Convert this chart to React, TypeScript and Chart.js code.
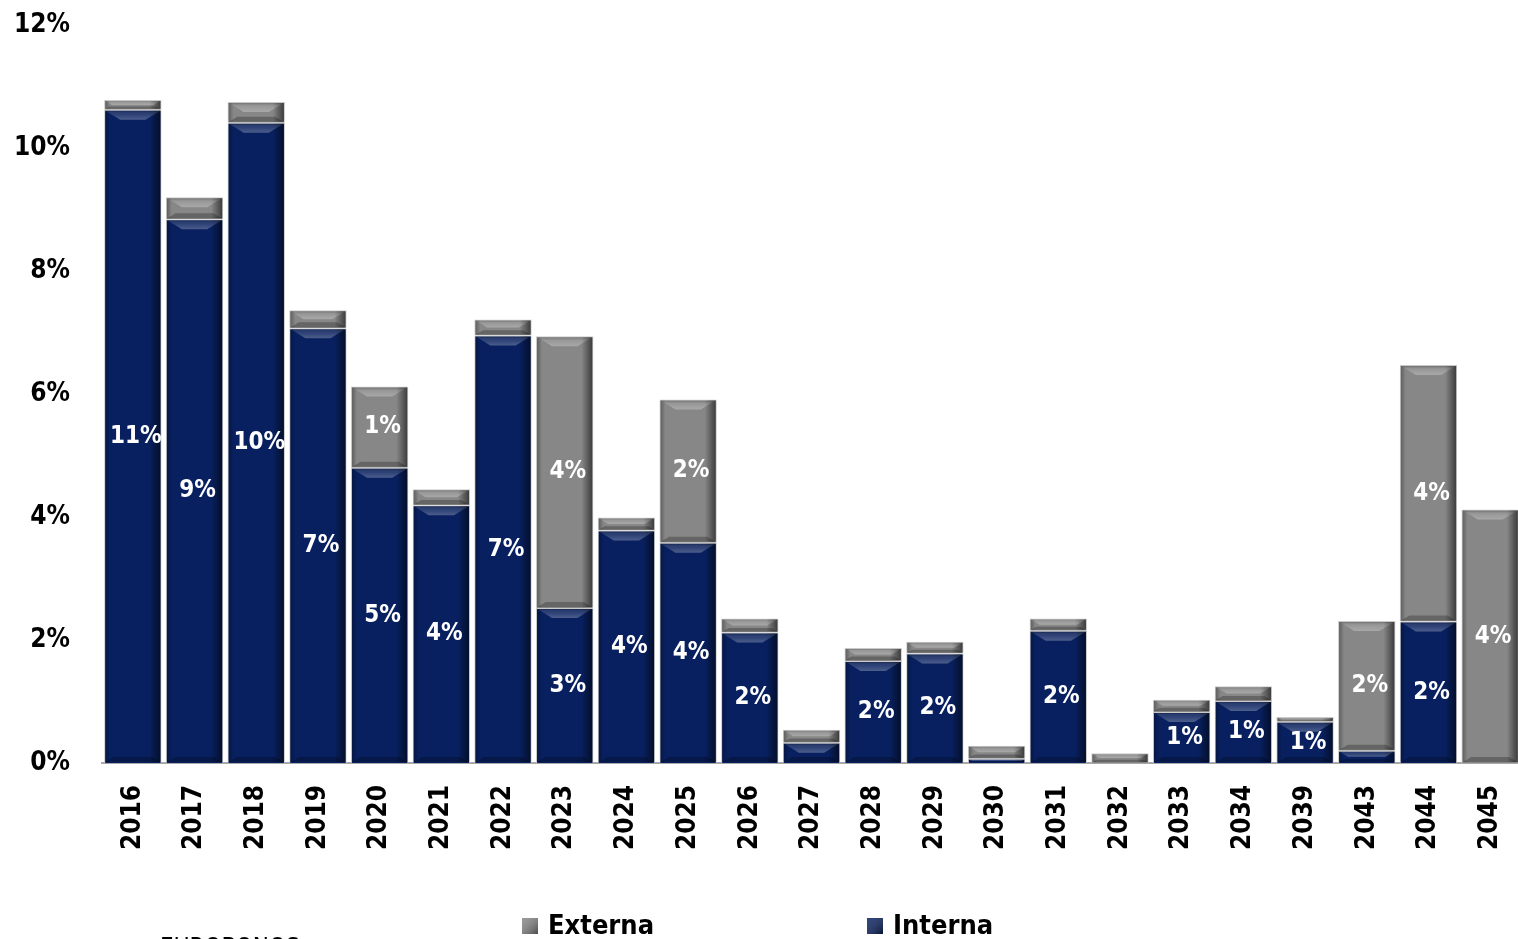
import React, { useEffect, useRef } from "react";
import { Chart, registerables } from "chart.js";

Chart.register(...registerables);

const years = ["2016", "2017", "2018", "2019", "2020", "2021", "2022", "2023", "2024", "2025", "2026", "2027", "2028", "2029", "2030", "2031", "2032", "2033", "2034", "2039", "2043", "2044", "2045"];
const interna = [10.62, 8.84, 10.41, 7.07, 4.8, 4.19, 6.95, 2.52, 3.78, 3.58, 2.12, 0.33, 1.66, 1.78, 0.07, 2.15, 0, 0.83, 1.01, 0.67, 0.2, 2.3, 0];
const externa = [0.16, 0.36, 0.34, 0.29, 1.32, 0.26, 0.26, 4.42, 0.21, 2.33, 0.23, 0.21, 0.21, 0.19, 0.21, 0.2, 0.16, 0.2, 0.24, 0.08, 2.11, 4.17, 4.12];
const internaLabels = ["11%", "9%", "10%", "7%", "5%", "4%", "7%", "3%", "4%", "4%", "2%", "", "2%", "2%", "", "2%", "", "1%", "1%", "1%", "", "2%", ""];
const externaLabels = ["", "", "", "", "1%", "", "", "4%", "", "2%", "", "", "", "", "", "", "", "", "", "", "2%", "4%", "4%"];
const yTicks = [0, 2, 4, 6, 8, 10, 12];
const legendOrder = ["Externa", "Interna"];
const footnote = "EUROBONOS";

const NAVY = "#08205f";
const GRAY = "#878787";
const FONT = '"DejaVu Sans Condensed", "DejaVu Sans", sans-serif';

const bevelPlugin = {
  id: "bevel",
  afterDatasetsDraw(chart: any) {
    const ctx = chart.ctx as CanvasRenderingContext2D;
    chart.data.datasets.forEach((ds: any, di: number) => {
      const meta = chart.getDatasetMeta(di);
      meta.data.forEach((el: any) => {
        const { x, y, base, width } = el.getProps(["x", "y", "base", "width"], true);
        const left = x - width / 2;
        const right = x + width / 2;
        const top = Math.min(y, base);
        const bottom = Math.max(y, base);
        const h = bottom - top;
        if (h < 1) return;
        ctx.save();
        ctx.beginPath();
        ctx.rect(left + 1, top + 1, width - 2, h - 2);
        ctx.clip();
        let g = ctx.createLinearGradient(right - 12, 0, right, 0);
        g.addColorStop(0, "rgba(0,0,0,0)");
        g.addColorStop(1, "rgba(0,0,0,0.6)");
        ctx.fillStyle = g;
        ctx.fillRect(right - 12, top, 12, h);
        g = ctx.createLinearGradient(left, 0, left + 6, 0);
        g.addColorStop(0, "rgba(0,0,0,0.35)");
        g.addColorStop(1, "rgba(0,0,0,0)");
        ctx.fillStyle = g;
        ctx.fillRect(left, top, 6, h);
        const b = Math.min(10, h / 2);
        ctx.beginPath();
        ctx.moveTo(left, top);
        ctx.lineTo(right, top);
        ctx.lineTo(right - b * 1.6, top + b);
        ctx.lineTo(left + b * 1.6, top + b);
        ctx.closePath();
        g = ctx.createLinearGradient(0, top, 0, top + b);
        g.addColorStop(0, "rgba(0,0,0,0.35)");
        g.addColorStop(0.45, "rgba(255,255,255,0.15)");
        g.addColorStop(1, "rgba(255,255,255,0.28)");
        ctx.fillStyle = g;
        ctx.fill();
        const bb = Math.min(6, h / 3);
        ctx.beginPath();
        ctx.moveTo(left, bottom);
        ctx.lineTo(right, bottom);
        ctx.lineTo(right - bb * 1.6, bottom - bb);
        ctx.lineTo(left + bb * 1.6, bottom - bb);
        ctx.closePath();
        ctx.fillStyle = "rgba(0,0,0,0.25)";
        ctx.fill();
        ctx.restore();
      });
    });
    // data labels
    ctx.save();
    ctx.font = `bold 24px ${FONT}`;
    ctx.fillStyle = "#ffffff";
    ctx.textAlign = "center";
    ctx.textBaseline = "middle";
    chart.data.datasets.forEach((ds: any, di: number) => {
      const meta = chart.getDatasetMeta(di);
      const labels: string[] = ds.valueLabels;
      meta.data.forEach((el: any, i: number) => {
        const txt = labels[i];
        if (!txt) return;
        const { x, y, base } = el.getProps(["x", "y", "base"], true);
        ctx.fillText(txt, x + 3, (y + base) / 2);
      });
    });
    ctx.restore();
  },
  afterDraw(chart: any) {
    const ctx = chart.ctx as CanvasRenderingContext2D;
    ctx.save();
    const positions = [522, 867];
    legendOrder.forEach((name, k) => {
      const ds = chart.data.datasets.find((d: any) => d.label === name);
      const bx = positions[k];
      const by = 918;
      ctx.fillStyle = ds.backgroundColor;
      ctx.fillRect(bx, by, 16, 16);
      const g = ctx.createLinearGradient(bx, by, bx + 16, by + 16);
      g.addColorStop(0, "rgba(255,255,255,0.15)");
      g.addColorStop(1, "rgba(0,0,0,0.45)");
      ctx.fillStyle = g;
      ctx.fillRect(bx, by, 16, 16);
      ctx.fillStyle = "#000";
      ctx.font = `bold 27px ${FONT}`;
      ctx.textAlign = "left";
      ctx.textBaseline = "middle";
      ctx.fillText(name, bx + 26, by + 9);
    });
    ctx.font = `24px ${FONT}`;
    ctx.textBaseline = "top";
    ctx.fillStyle = "#000";
    ctx.fillText(footnote, 160, 937);
    ctx.restore();
  },
};

export default function App() {
  const ref = useRef<HTMLCanvasElement | null>(null);
  useEffect(() => {
    if (!ref.current) return;
    const chart = new Chart(ref.current, {
      type: "bar",
      data: {
        labels: years,
        datasets: [
          {
            label: "Interna",
            data: interna,
            backgroundColor: NAVY,
            borderColor: "#c9c9c9",
            borderWidth: 1,
            valueLabels: internaLabels,
          } as any,
          {
            label: "Externa",
            data: externa,
            backgroundColor: GRAY,
            borderColor: "#c9c9c9",
            borderWidth: 1,
            valueLabels: externaLabels,
          } as any,
        ],
      },
      options: {
        responsive: true,
        maintainAspectRatio: false,
        animation: false,
        layout: { padding: { left: 13, top: 25, right: 1, bottom: 0 } },
        datasets: { bar: { barPercentage: 0.93, categoryPercentage: 1 } },
        plugins: { legend: { display: false }, tooltip: { enabled: false } },
        scales: {
          x: {
            stacked: true,
            grid: { display: false, drawTicks: false },
            border: { display: true, color: "#a8a8a8", width: 2 },
            ticks: {
              color: "#000",
              font: { family: FONT, size: 26, weight: "bold" },
              minRotation: 90,
              maxRotation: 90,
              padding: 22,
              autoSkip: false,
            },
            afterFit(scale: any) {
              scale.height = 176;
              scale.paddingLeft = 0;
              scale.paddingRight = 0;
              scale.paddingTop = 0;
              scale.paddingBottom = 0;
            },
          },
          y: {
            stacked: true,
            min: 0,
            max: 12,
            grid: { display: false, drawTicks: false },
            border: { display: false },
            afterBuildTicks(scale: any) {
              scale.ticks = yTicks.map((v) => ({ value: v }));
            },
            ticks: {
              color: "#000",
              font: { family: FONT, size: 26, weight: "bold" },
              padding: 32,
              callback: (v: any) => `${v}%`,
            },
            afterFit(scale: any) {
              scale.width = 89;
              scale.paddingTop = 0;
              scale.paddingBottom = 0;
              scale.paddingLeft = 0;
              scale.paddingRight = 0;
            },
          },
        },
      },
      plugins: [bevelPlugin],
    });
    return () => chart.destroy();
  }, []);
  return (
    <div style={{ position: "absolute", left: 0, top: 0, width: 1518, height: 939, overflow: "hidden", background: "#fff" }}>
      <div style={{ position: "relative", width: 1522, height: 939 }}>
        <canvas ref={ref} />
      </div>
    </div>
  );
}
